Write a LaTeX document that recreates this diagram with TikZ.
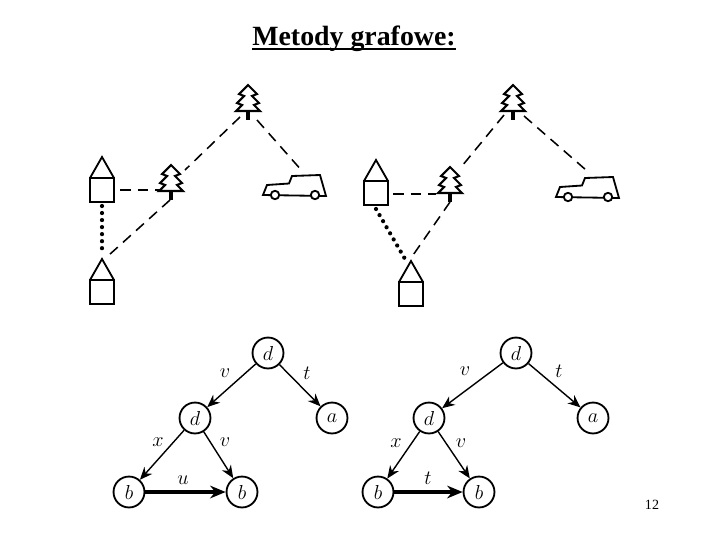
\documentclass[tikz,border=0pt]{standalone}
\usepackage{amsmath,amssymb}
\usepackage{fontspec}
\setmainfont{Liberation Serif}
\usetikzlibrary{arrows.meta}

\tikzset{
	road/.style={line width=1.1pt, dash pattern=on 7.5pt off 5pt},
	path/.style={line width=3pt, line cap=round, dash pattern=on 0pt off 5pt},
	vertex/.style={draw, circle, line width=1.3pt, minimum size=22pt, inner sep=0pt, fill=white, font=\Large},
	edge/.style={line width=1pt, -{Stealth[length=9pt,width=7.5pt]}},
	goal/.style={line width=3pt, -{Stealth[length=11pt,width=9pt]}},
	lab/.style={inner sep=0pt, font=\Large},
	pics/tree/.style={code={
		\draw[line width=1.5pt] (0,0)--(9,9)--(4,11)--(11,18)--(6,20)--(12,26)--(-12,26)--(-6,20)--(-11,18)--(-4,11)--(-9,9)--cycle;
		\draw[line width=2.6pt] (0,26)--(0,35);
	}},
	pics/house/.style={code={
		\draw[line width=1.3pt] (-12,21)--(0,0)--(12,21);
		\draw[line width=1.3pt] (-12,21) rectangle (12,45);
	}},
	pics/car/.style={code={
		\draw[line width=1.3pt] (0,-1)--(4,-11)--(26,-12.5)--(29,-20)--(57,-21)--(63,0)--cycle;
		\draw[line width=1.3pt, fill=white] (12,-1) circle (4.2);
		\draw[line width=1.3pt, fill=white] (52,-1) circle (4.2);
	}}
}

\begin{document}
\begin{tikzpicture}[x=0.025cm, y=-0.025cm]
	\useasboundingbox (0,0) rectangle (720,540);
	
	\node[font=\fontsize{19.8}{24}\selectfont\bfseries, inner sep=0pt, anchor=base] (title) at (354,45) {Metody grafowe:};
	\draw[line width=1.5pt] ([yshift=-3pt]title.base west)--([yshift=-3pt]title.base east);
	\node[font=\fontsize{10}{12}\selectfont, inner sep=0pt] (page) at (652,505) {12};
	
	% left scene
	\pic at (248,85) {tree};
	\pic at (171,165) {tree};
	\pic at (102,157) {house};
	\pic at (102,259) {house};
	\pic at (263,196) {car};
	\coordinate (lA) at (240,117); \coordinate (lB) at (185,170);
	\coordinate (lC) at (257,120); \coordinate (lD) at (303,172);
	\coordinate (lE) at (120,190); \coordinate (lF) at (162,190);
	\coordinate (lG) at (170,200); \coordinate (lH) at (109,255);
	\coordinate (lI) at (102,206); \coordinate (lJ) at (102,255);
	\draw[road] (lA)--(lB);
	\draw[road] (lC)--(lD);
	\draw[road] (lE)--(lF);
	\draw[road] (lG)--(lH);
	\draw[path] (lI)--(lJ);
	
	% right scene
	\pic at (513,85) {tree};
	\pic at (450,167) {tree};
	\pic at (376,160) {house};
	\pic at (411,261) {house};
	\pic at (556,198) {car};
	\coordinate (rA) at (504,115); \coordinate (rB) at (462,166);
	\coordinate (rC) at (524,116); \coordinate (rD) at (586,170);
	\coordinate (rE) at (393,194); \coordinate (rF) at (436,194);
	\coordinate (rG) at (450,202); \coordinate (rH) at (411,258);
	\coordinate (rI) at (376,209); \coordinate (rJ) at (405,259);
	\draw[road] (rA)--(rB);
	\draw[road] (rC)--(rD);
	\draw[road] (rE)--(rF);
	\draw[road] (rG)--(rH);
	\draw[path] (rI)--(rJ);
	
	% left tree
	\node[vertex] (ld1) at (268,353) {$d$};
	\node[vertex] (ld2) at (195,418) {$d$};
	\node[vertex] (la) at (332,418) {$a$};
	\node[vertex] (lb1) at (129,492) {$b$};
	\node[vertex] (lb2) at (242,492) {$b$};
	\draw[edge] (ld1)--(ld2);
	\draw[edge] (ld1)--(la);
	\draw[edge] (ld2)--(lb1);
	\draw[edge] (ld2)--(lb2);
	\draw[goal] (lb1)--(lb2);
	\node[lab] (lv1) at (225,373) {$v$};
	\node[lab] (lt1) at (307,373) {$t$};
	\node[lab] (lx) at (158,442) {$x$};
	\node[lab] (lv2) at (225,442) {$v$};
	\node[lab] (lu) at (183,480) {$u$};
	
	% right tree
	\node[vertex] (rd1) at (516,353) {$d$};
	\node[vertex] (rd2) at (429,418) {$d$};
	\node[vertex] (ra) at (593,418) {$a$};
	\node[vertex] (rb1) at (378,492) {$b$};
	\node[vertex] (rb2) at (479,492) {$b$};
	\draw[edge] (rd1)--(rd2);
	\draw[edge] (rd1)--(ra);
	\draw[edge] (rd2)--(rb1);
	\draw[edge] (rd2)--(rb2);
	\draw[goal] (rb1)--(rb2);
	\node[lab] (rv1) at (465,371) {$v$};
	\node[lab] (rt1) at (559,371) {$t$};
	\node[lab] (rx) at (396,443) {$x$};
	\node[lab] (rv2) at (461,443) {$v$};
	\node[lab] (rt2) at (428,478) {$t$};
\end{tikzpicture}
\end{document}
